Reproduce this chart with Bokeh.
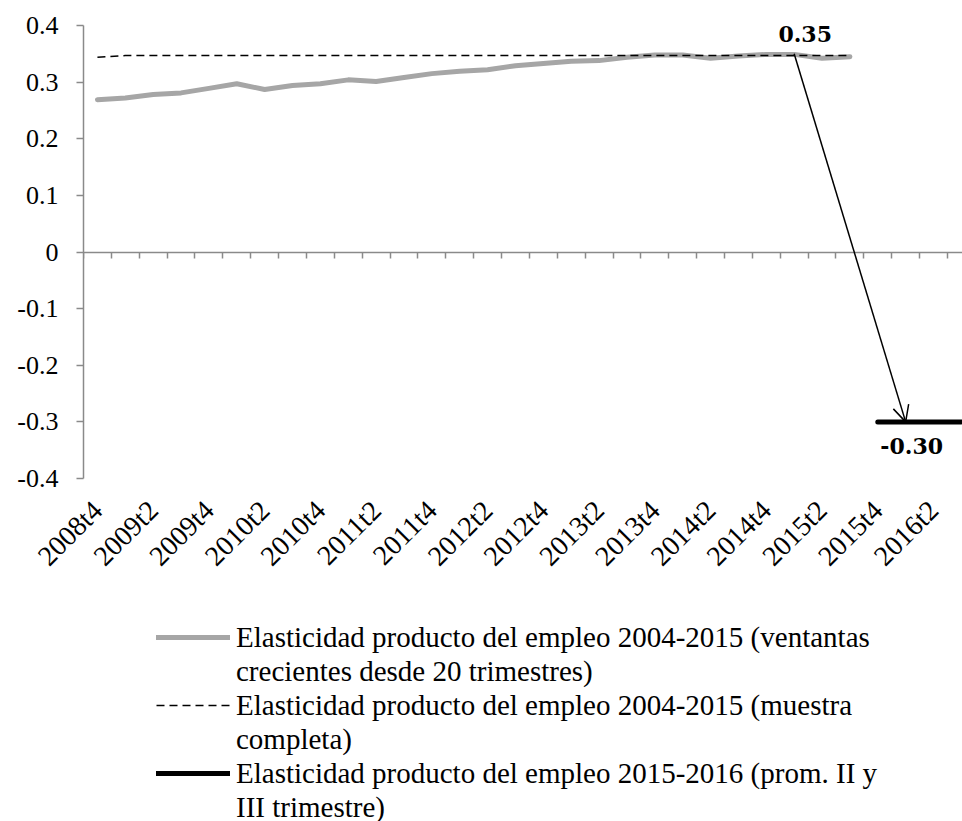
import math
from bokeh.plotting import figure
from bokeh.layouts import column
from bokeh.models import (Range1d, FixedTicker, LinearAxis, Legend, LegendItem,
                          Arrow, OpenHead)
from bokeh.core.properties import value
from bokeh.embed import file_html
from bokeh.resources import INLINE

# ---------------- data ----------------
quarters = ["2008t4", "2009t1", "2009t2", "2009t3", "2009t4", "2010t1", "2010t2", "2010t3",
            "2010t4", "2011t1", "2011t2", "2011t3", "2011t4", "2012t1", "2012t2", "2012t3",
            "2012t4", "2013t1", "2013t2", "2013t3", "2013t4", "2014t1", "2014t2", "2014t3",
            "2014t4", "2015t1", "2015t2", "2015t3", "2015t4", "2016t1", "2016t2", "2016t3"]

x_tick_labels = ["2008t4", "2009t2", "2009t4", "2010t2", "2010t4", "2011t2", "2011t4", "2012t2",
                 "2012t4", "2013t2", "2013t4", "2014t2", "2014t4", "2015t2", "2015t4", "2016t2"]

ventanas_q = ["2008t4", "2009t1", "2009t2", "2009t3", "2009t4", "2010t1", "2010t2", "2010t3",
              "2010t4", "2011t1", "2011t2", "2011t3", "2011t4", "2012t1", "2012t2", "2012t3",
              "2012t4", "2013t1", "2013t2", "2013t3", "2013t4", "2014t1", "2014t2", "2014t3",
              "2014t4", "2015t1", "2015t2", "2015t3"]
ventanas = [0.269, 0.272, 0.278, 0.281, 0.289, 0.297, 0.287, 0.294,
            0.297, 0.304, 0.301, 0.308, 0.315, 0.319, 0.322, 0.329,
            0.333, 0.337, 0.338, 0.344, 0.348, 0.348, 0.342, 0.346,
            0.349, 0.349, 0.342, 0.345]
completa = [0.344, 0.347, 0.347, 0.347, 0.347, 0.347, 0.347, 0.347,
            0.347, 0.347, 0.347, 0.347, 0.347, 0.347, 0.347, 0.347,
            0.347, 0.347, 0.347, 0.347, 0.347, 0.347, 0.347, 0.347,
            0.347, 0.347, 0.347, 0.347]

reciente_q = ["2015t4", "2016t1", "2016t2", "2016t3"]
reciente = [-0.30, -0.30, -0.30, -0.30]

y_ticks = [-0.4, -0.3, -0.2, -0.1, 0.0, 0.1, 0.2, 0.3, 0.4]
y_tick_labels = ["-0.4", "-0.3", "-0.2", "-0.1", "0", "0.1", "0.2", "0.3", "0.4"]

label_hi = ("2015t1", 0.35, "0.35")
label_lo = ("2016t1", -0.30, "-0.30")

legend_lines = [
    ["Elasticidad producto del empleo 2004-2015 (ventantas", "crecientes desde 20 trimestres)"],
    ["Elasticidad producto del empleo 2004-2015 (muestra", "completa)"],
    ["Elasticidad producto del empleo 2015-2016 (prom. II y", "III trimestre)"],
]


def pos(q):
    return quarters.index(q) + 0.5


AXIS = "#8A8A8A"
FONT = "Liberation Serif"
GRAY = "#A6A6A6"

# ---------------- main chart ----------------
p = figure(width=962, height=600, x_range=Range1d(0, 31.54), y_range=Range1d(-0.4, 0.4),
           output_backend="svg", toolbar_location=None,
           min_border_left=83, min_border_right=0, min_border_top=25, min_border_bottom=122)
p.outline_line_color = None
p.grid.visible = False

# x labels axis (bottom)
xa = p.xaxis[0]
label_pos = [pos(q) for q in x_tick_labels]
xa.ticker = FixedTicker(ticks=label_pos)
xa.major_label_overrides = dict(zip(label_pos, x_tick_labels))
xa.axis_line_color = None
xa.major_tick_line_color = None
xa.minor_tick_line_color = None
xa.major_tick_out = 0
xa.major_tick_in = 0
xa.major_label_orientation = math.pi / 4
xa.major_label_standoff = 27
xa.major_label_text_font = FONT
xa.major_label_text_font_size = "28px"
xa.major_label_text_color = "black"

# y axis
ya = p.yaxis[0]
ya.ticker = FixedTicker(ticks=y_ticks)
ya.major_label_overrides = dict(zip(y_ticks, y_tick_labels))
ya.axis_line_color = AXIS
ya.axis_line_width = 1.5
ya.major_tick_line_color = AXIS
ya.major_tick_line_width = 1.5
ya.major_tick_out = 7
ya.major_tick_in = 0
ya.minor_tick_line_color = None
ya.major_label_standoff = 18
ya.major_label_text_font = FONT
ya.major_label_text_font_size = "26px"
ya.major_label_text_color = "black"

# axis line at zero with quarter-boundary ticks (no labels)
boundaries = list(range(len(quarters) + 1))
zero_axis = LinearAxis(fixed_location=0, ticker=FixedTicker(ticks=boundaries),
                       axis_line_color=AXIS, axis_line_width=1.5,
                       major_tick_line_color=AXIS, major_tick_line_width=1.5,
                       major_tick_in=6, major_tick_out=0, minor_tick_line_color=None,
                       major_label_text_color=None, major_label_text_font_size="1px",
                       major_label_standoff=0)
p.add_layout(zero_axis, "above")

# series
r1 = p.line([pos(q) for q in ventanas_q], ventanas, line_color=GRAY, line_width=5,
            line_join="round", line_cap="round")
r2 = p.line([pos(q) for q in ventanas_q], completa, line_color="black", line_width=1.5,
            line_dash="8 5")
r3 = p.line([pos(q) for q in reciente_q], reciente, line_color="black", line_width=5,
            line_cap="round")

# arrow
p.add_layout(Arrow(end=OpenHead(size=16, line_width=1.5, line_color="black"),
                   x_start=pos(label_hi[0]), y_start=label_hi[1],
                   x_end=pos(label_lo[0]), y_end=label_lo[1],
                   line_width=1.5, line_color="black"))

p.text(x=[pos(label_hi[0])], y=[label_hi[1]], text=[label_hi[2]], x_offset=11, y_offset=-20,
       text_align="center", text_baseline="alphabetic", text_font=value("DejaVu Serif"),
       text_font_style="bold", text_font_size="22px", text_color="black")
p.text(x=[pos(label_lo[0])], y=[label_lo[1]], text=[label_lo[2]], x_offset=6, y_offset=24,
       text_align="center", text_baseline="alphabetic", text_font=value("DejaVu Serif"),
       text_font_style="bold", text_font_size="22px", text_color="black")

# ---------------- legend (separate panel below) ----------------
# the same series are drawn here outside the visible range; only their legend keys show
lg = figure(width=962, height=221, x_range=Range1d(-2, -1), y_range=Range1d(-0.4, 0.4),
            output_backend="svg", toolbar_location=None,
            min_border_left=83, min_border_right=0, min_border_top=0, min_border_bottom=0)
lg.axis.visible = False
lg.grid.visible = False
lg.outline_line_color = None
k1 = lg.line([pos(q) for q in ventanas_q], ventanas, line_color=GRAY, line_width=5,
             line_cap="round")
k2 = lg.line([pos(q) for q in ventanas_q], completa, line_color="black", line_width=1.5,
             line_dash="8 5")
k3 = lg.line([pos(q) for q in reciente_q], reciente, line_color="black", line_width=5,
             line_cap="round")

items = []
for key, lines in zip([k1, k2, k3], legend_lines):
    items.append(LegendItem(label=lines[0], renderers=[key]))
    items.append(LegendItem(label=lines[1], renderers=[]))

legend = Legend(items=items, location=(73, -3), orientation="vertical",
                label_text_font=FONT, label_text_font_size="29px", label_text_color="black",
                glyph_width=74, glyph_height=34, label_height=34, label_standoff=6,
                spacing=0, padding=0, margin=0,
                border_line_color=None, background_fill_alpha=0)
lg.add_layout(legend)

open("out.html", "w").write(file_html(column(p, lg, spacing=0), INLINE))
